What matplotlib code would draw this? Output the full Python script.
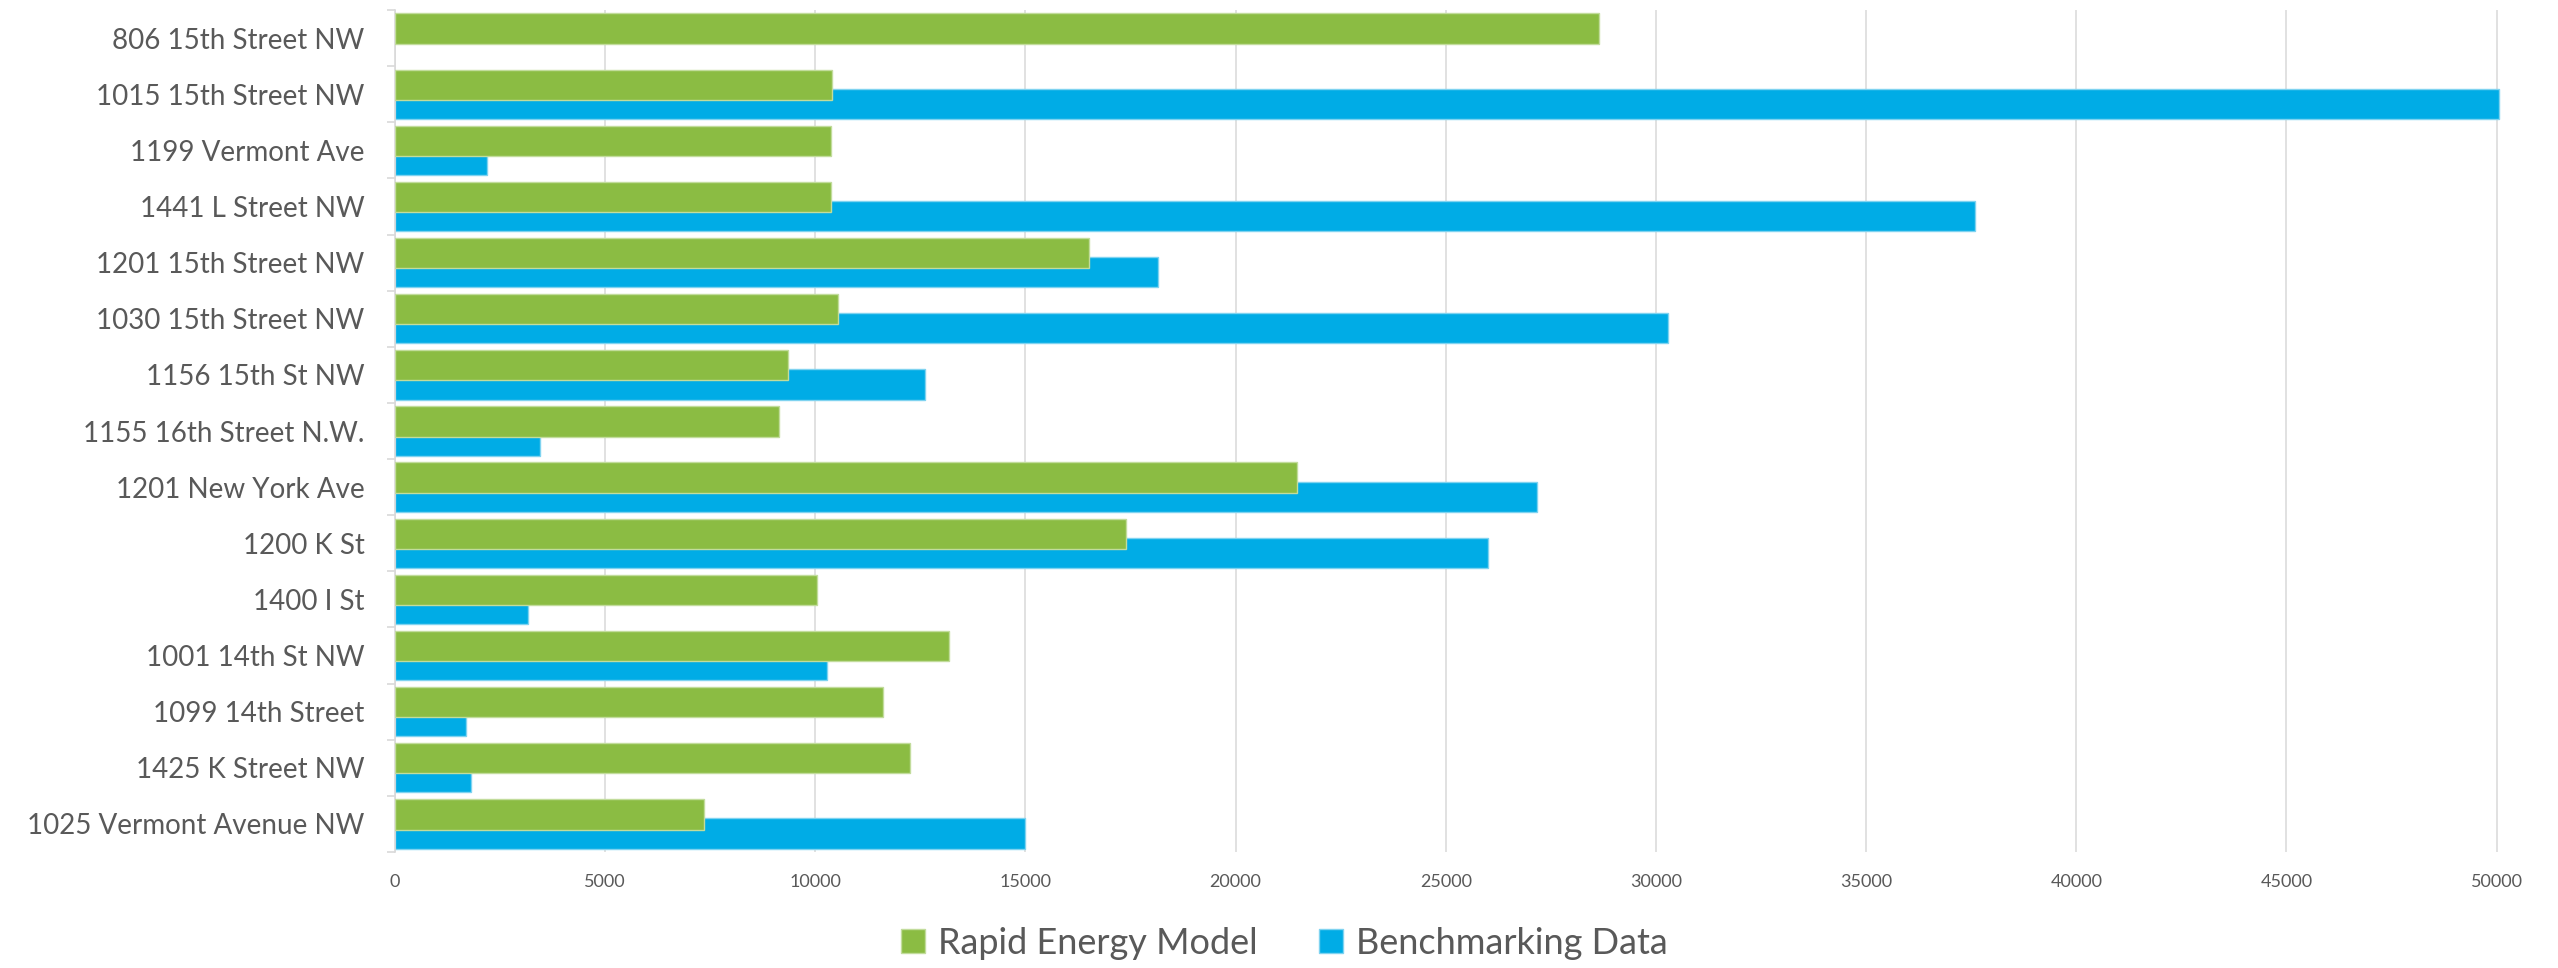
import numpy as np
import matplotlib.pyplot as plt

# buildings, top to bottom
buildings = ['806 15th Street NW', '1015 15th Street NW', '1199 Vermont Ave',
             '1441 L Street NW', '1201 15th Street NW', '1030 15th Street NW',
             '1156 15th St NW', '1155 16th Street N.W.', '1201 New York Ave',
             '1200 K St', '1400 I St', '1001 14th St NW', '1099 14th Street',
             '1425 K Street NW', '1025 Vermont Avenue NW']

rapid_model = [28650, 10400, 10370, 10370, 16510, 10530, 9350, 9130, 21470,
               17380, 10030, 13170, 11620, 12250, 7350]

benchmarking = [np.nan, 50050, 2200, 37600, 18150, 30280, 12600, 3460, 27160,
                26000, 3170, 10280, 1690, 1800, 15000]

xticks = list(range(0, 50001, 5000))

GREEN = '#8bbc43'
BLUE = '#00ace6'
GREY_TXT = '#595959'
GRID = '#d9d9d9'

plt.rcParams['font.family'] = ['Lato', 'DejaVu Sans']

fig = plt.figure(figsize=(25.58, 9.68), dpi=100)
ax = fig.add_axes([395 / 2558, 1 - 852 / 968, 2110 / 2558, 842 / 968])

y = np.arange(len(buildings))
h = 0.54
ax.barh(y + 0.17, benchmarking, height=h, color=BLUE, edgecolor='#7fd3f0',
        linewidth=1, label='Benchmarking Data', zorder=2)
ax.barh(y - 0.17, rapid_model, height=h, color=GREEN, edgecolor='#c2dc9c',
        linewidth=1, label='Rapid Energy Model', zorder=3)

ax.set_xlim(0, 50200)
ax.set_ylim(len(buildings) - 0.5, -0.5)
ax.set_xticks(xticks)
ax.set_xticklabels([str(v) for v in xticks], fontsize=13, color=GREY_TXT)
ax.set_yticks(y)
ax.set_yticklabels(buildings, fontsize=20, color=GREY_TXT)
ax.set_yticks(np.arange(-0.5, len(buildings), 1), minor=True)

ax.tick_params(axis='x', length=0, pad=16)
ax.tick_params(axis='y', which='major', length=0, pad=22)
ax.tick_params(axis='y', which='minor', length=6, width=1.2, color=GRID)

ax.grid(axis='x', color=GRID, linewidth=1.1, zorder=0)
ax.set_axisbelow(True)
for side in ['top', 'right', 'bottom']:
    ax.spines[side].set_visible(False)
ax.spines['left'].set_color(GRID)
ax.spines['left'].set_linewidth(1.2)

handles, labels = ax.get_legend_handles_labels()
leg = fig.legend(handles[::-1], labels[::-1], loc='center',
                 bbox_to_anchor=(0.502, 1 - 943 / 968), ncol=2, frameon=False,
                 fontsize=26, handlelength=0.67, handleheight=0.67,
                 handletextpad=0.36, columnspacing=1.7)
for t in leg.get_texts():
    t.set_color(GREY_TXT)

fig.savefig('out.png', dpi=100)
